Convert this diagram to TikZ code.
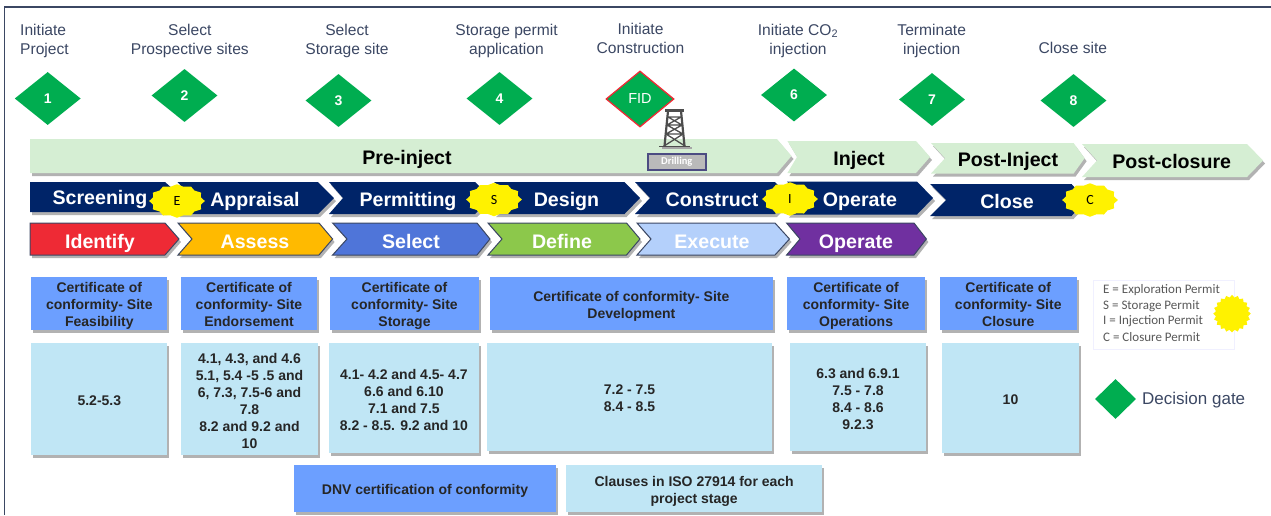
\documentclass[tikz,border=0pt]{standalone}
\usepackage{fontspec}
\setmainfont{Liberation Sans}
\newfontfamily\calibrifont{Carlito}
\usetikzlibrary{shapes.geometric,shadows}
\definecolor{inkblue}{HTML}{3B4763}
\definecolor{gategreen}{HTML}{00AD50}
\definecolor{bandgreen}{HTML}{D5EED3}
\definecolor{navyband}{HTML}{002468}
\definecolor{certblue}{HTML}{6C9FFF}
\definecolor{clauseblue}{HTML}{C0E6F5}
\definecolor{identifyred}{HTML}{EE2A35}
\definecolor{assessorange}{HTML}{FFBA00}
\definecolor{selectblue}{HTML}{4F75D9}
\definecolor{definegreen}{HTML}{8CC84B}
\definecolor{executeblue}{HTML}{B4D0FB}
\definecolor{operatepurple}{HTML}{7030A0}
\definecolor{rigcolor}{HTML}{4D4D4D}
\newcommand{\chevron}[7]{\filldraw[#1] (#2,#6) -- (#4,#6) -- (#5,{(#6+#7)/2}) -- (#4,#7) -- (#2,#7) -- (#3,{(#6+#7)/2}) -- cycle;}
\tikzset{
	softshadow/.style={drop shadow={shadow xshift=2pt,shadow yshift=-3pt,fill=black,opacity=.3}},
	milestone/.style={text=inkblue,font=\fontsize{15.6}{19}\selectfont,align=center,inner sep=0pt},
	gate/.style={diamond,fill=gategreen,text=white,inner sep=0pt,aspect=1.25,minimum width=66pt,minimum height=53pt,font=\fontsize{14}{16}\selectfont\bfseries},
	bandtext/.style={font=\fontsize{19.6}{20}\selectfont\bfseries,inner sep=0pt,text height=14pt,text depth=4pt,yshift=-2pt},
	permit/.style={star,star points=12,star point ratio=1.13,fill=yellow,inner sep=0pt,minimum size=33.5pt,xscale=1.66,transform shape},
	permittext/.style={font=\calibrifont\fontsize{14}{15}\selectfont,inner sep=0pt},
	certbox/.style={fill=certblue,softshadow,inner sep=0pt},
	clausebox/.style={fill=clauseblue,softshadow,inner sep=0pt},
	boxtext/.style={inner sep=0pt,align=center,text=black!85,font=\fontsize{14}{17}\selectfont\bfseries,execute at end node=\vphantom{g},yshift=-3pt},
	stage/.style={draw=inkblue,line width=1pt,softshadow},
}
\begin{document}
\begin{tikzpicture}[x=1pt,y=-1pt]
	\useasboundingbox (0,0) rectangle (1271,515);
	\draw[inkblue,line width=1.2pt] (4.5,515) -- (4.5,7) -- (1271,7);

	% milestones
	\node[milestone,align=left,anchor=west] (start) at (20,40.5) {Initiate\\Project};
	\foreach \n/\x/\y/\t in {sites/189.8/40.5/{Select\\Prospective sites},storage/347/40.5/{Select\\Storage site},application/506.5/40.5/{Storage permit\\application},construction/640.5/38.5/{Initiate\\Construction},injection/798/40.5/{Initiate CO\textsubscript{2}\\injection},terminate/931.7/41/{Terminate\\injection},closesite/1072.8/48/{Close site}}
	{
		\node[milestone] (\n) at (\x,\y) {\t};
	}
	\foreach \n/\x/\y/\t in {1/47.7/98.5/1,2/184.5/95.5/2,3/338.5/100.5/3,4/499.5/98.5/4,6/794/95/6,7/932/99.5/7,8/1073.5/100.5/8}
	{
		\node[gate] (gate\n) at (\x,\y) {\t};
	}
	\node[gate,draw=identifyred,line width=1.3pt,minimum width=68pt,minimum height=56pt,font=\fontsize{14.5}{16}\selectfont] (gateFID) at (640,99) {FID};

	% project phases
	\chevron{fill=bandgreen,draw=none,softshadow}{30}{30}{777}{791.5}{139}{173}
	\chevron{fill=bandgreen,draw=none,softshadow}{787.4}{797}{916}{930}{141}{173}
	\chevron{fill=bandgreen,draw=none,softshadow}{931}{945}{1073.6}{1084.6}{143}{173.5}
	\chevron{fill=bandgreen,draw=none,softshadow}{1082}{1097}{1247}{1263}{144}{177}
	\foreach \n/\x/\y/\t in {preinject/407/157/Pre-inject,inject/859/158/Inject,postinject/1008/159/Post-Inject,postclosure/1171.7/161.5/Post-closure}
	{
		\node[bandtext] (\n) at (\x,\y) {\t};
	}

	% drilling rig
	\draw[rigcolor!50,line width=2.5pt] (662,148) -- (692,148);
	\draw[rigcolor,line width=1.8pt] (659,146.5) -- (690,146.5);
	\draw[rigcolor,line width=2.2pt] (664.5,146) -- (668,111) (684.5,146) -- (681,111);
	\draw[rigcolor,line width=3.5pt] (665,110.5) -- (684,110.5);
	\draw[rigcolor,line width=1.3pt] (668,117) -- (681,117) (667,125) -- (682,125) (666,134) -- (683,134) (668,117) -- (682,125) -- (666,134) -- (685,146) (681,117) -- (667,125) -- (683,134) -- (664,146);
	\node[fill=black!27,draw=blue!30!black!70,line width=1.4pt,minimum width=58pt,minimum height=16pt,inner sep=0pt,text=white,font=\calibrifont\bfseries\fontsize{10.5}{12}\selectfont] (drilling) at (676.8,161.8) {Drilling};

	% permits
	\chevron{fill=navyband,draw=none,softshadow}{30}{30}{165}{182}{182}{212}
	\chevron{fill=navyband,draw=none,softshadow}{177.5}{193}{318}{334}{182}{214}
	\chevron{fill=navyband,draw=none,softshadow}{329}{343}{475}{492}{182}{214}
	\chevron{fill=navyband,draw=none,softshadow}{494}{510}{624.5}{640}{182}{214}
	\chevron{fill=navyband,draw=none,softshadow}{635}{650}{775}{790}{182}{214}
	\chevron{fill=navyband,draw=none,softshadow}{787}{803}{917}{933}{181.5}{214.5}
	\chevron{fill=navyband,draw=none,softshadow}{930}{946}{1071.5}{1087}{184}{216}
	\foreach \n/\x/\y/\t in {screening/100/197/Screening,appraisal/255/199/Appraisal,permitting/408/199/Permitting,design/566.5/199/Design,construct/712/199/Construct,operation/860/199/Operate,closure/1007/201/Close}
	{
		\node[bandtext,text=white] (\n) at (\x,\y) {\t};
	}
	\foreach \n/\x/\y in {E/177/201,S/494/199.5,I/790/199,C/1090/200}
	{
		\node[permit] (star\n) at (\x,\y) {};
		\node[permittext] (letter\n) at (\x,\y) {\n};
	}

	% stages
	\chevron{fill=identifyred,stage}{30}{30}{165}{179}{223}{255}
	\chevron{fill=assessorange,stage}{178}{192}{319}{332.6}{223}{255}
	\chevron{fill=selectblue,stage}{332.6}{347}{477}{490}{223}{255}
	\chevron{fill=definegreen,stage}{488}{502}{626.5}{640}{223}{255}
	\chevron{fill=executeblue,stage}{637}{651}{775}{789.5}{223}{255}
	\chevron{fill=operatepurple,stage}{786.6}{800}{914}{926.4}{223}{255}
	\foreach \n/\x/\t in {identify/100/Identify,assess/255/Assess,select/411/Select,define/562/Define,execute/712/Execute,operatestage/856/Operate}
	{
		\node[bandtext,text=white] (\n) at (\x,241) {\t};
	}

	% certificates
	\foreach \n/\x/\w/\t in {cerfeas/99.35/135.9/{Certificate of\\conformity- Site\\Feasibility},cerend/249/136/{Certificate of\\conformity- Site\\Endorsement},cersto/404.5/149/{Certificate of\\conformity- Site\\Storage},cerdev/631.35/282.7/{Certificate of conformity- Site\\Development},cerope/856.1/137.4/{Certificate of\\conformity- Site\\Operations},cerclo/1008.25/137.5/{Certificate of\\conformity- Site\\Closure}}
	{
		\node[certbox,minimum width=\w pt,minimum height=53.3pt] (\n) at (\x,303.4) {};
		\node[boxtext] (\n text) at (\n.center) {\t};
	}

	% clauses
	\foreach \n/\x/\y/\w/\h/\t in {clafeas/99.35/399/135.9/111.4/{5.2-5.3},claend/249.5/399/137/112/{4.1, 4.3, and 4.6\\5.1, 5.4 -5 .5 and\\6, 7.3, 7.5-6 and\\7.8\\8.2 and 9.2 and\\10},clasto/403.9/398/149.8/110/{4.1- 4.2 and 4.5- 4.7\\6.6 and 6.10\\7.1 and 7.5\\8.2 - 8.5. 9.2 and 10},cladev/629.5/397/285/108/{7.2 - 7.5\\8.4 - 8.5},claope/858/397/136/108/{6.3 and 6.9.1\\7.5 - 7.8\\8.4 - 8.6\\9.2.3},clacl/1010.5/398/137/110.5/{10}}
	{
		\node[clausebox,minimum width=\w pt,minimum height=\h pt] (\n) at (\x,\y) {};
		\node[boxtext] (\n text) at (\n.center) {\t};
	}

	% key
	\node[certbox,minimum width=262pt,minimum height=46.7pt] (keycert) at (425,488.3) {};
	\node[boxtext] (keycerttext) at (keycert.center) {DNV certification of conformity};
	\node[clausebox,minimum width=255.5pt,minimum height=46.7pt] (keyclause) at (694.2,488.3) {};
	\node[boxtext] (keyclausetext) at (keyclause.center) {Clauses in ISO 27914 for each\\project stage};
	\node[fill=white,draw=blue!6,minimum width=141pt,minimum height=69pt,inner sep=0pt] (permitkey) at (1163.5,314.5) {};
	\foreach \n/\y/\t in {keyE/290.5/{E = Exploration Permit},keyS/306/{S = Storage Permit},keyI/321.5/{I = Injection Permit},keyC/337/{C = Closure Permit}}
	{
		\node[anchor=west,inner sep=0pt,text=black!65,font=\calibrifont\fontsize{13}{14}\selectfont] (\n) at (1103,\y) {\t};
	}
	\node[star,star points=20,star point ratio=1.15,fill=yellow,inner sep=0pt,minimum size=37.5pt] (keystar) at (1232,313.7) {};
	\node[gate,aspect=1,minimum width=41pt,minimum height=40pt] (keygate) at (1115.5,399) {};
	\node[anchor=west,inner sep=0pt,text=inkblue,font=\fontsize{17}{18}\selectfont] (keygatetext) at (1142,400) {Decision gate};
\end{tikzpicture}
\end{document}
